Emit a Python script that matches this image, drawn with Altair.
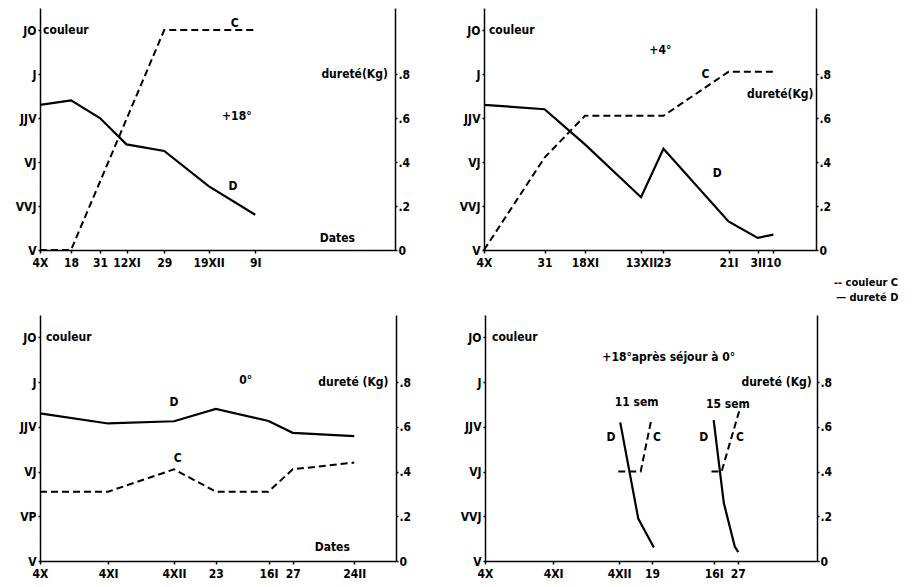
import altair as alt
import pandas as pd

FONT = "DejaVu Sans Condensed"

# colour scale labels (left axis), level 0..5
levels_a = ["V", "VVJ", "VJ", "JJV", "J", "JO"]
levels_b = ["V", "VP", "VJ", "JJV", "J", "JO"]

# ---------- Panel 1 : +18° ----------
p1_ticks = [0, 14, 27, 39, 56, 76, 97]
p1_tick_labels = ["4X", "18", "31", "12XI", "29", "19XII", "9I"]
p1_d_days = [0, 14, 27, 39, 56, 76, 97]
p1_d_vals = [0.66, 0.68, 0.60, 0.48, 0.45, 0.29, 0.16]
p1_c_days = [0, 14, 56, 97]
p1_c_levels = [0, 0, 5, 5]

# ---------- Panel 2 : +4° ----------
p2_ticks = [0, 27, 45, 70, 80, 109, 122, 129]
p2_tick_labels = ["4X", "31", "18XI", "13XII", "23", "21I", "3II", "10"]
p2_d_days = [0, 27, 45, 70, 80, 109, 122, 129]
p2_d_vals = [0.66, 0.64, 0.48, 0.24, 0.46, 0.13, 0.055, 0.07]
p2_c_days = [0, 27, 45, 80, 109, 129]
p2_c_levels = [0, 2.1, 3.05, 3.05, 4.05, 4.05]

# ---------- Panel 3 : 0° ----------
p3_ticks = [0, 31, 61, 80, 104, 115, 143]
p3_tick_labels = ["4X", "4XI", "4XII", "23", "16I", "27", "24II"]
p3_d_days = [0, 31, 61, 80, 104, 115, 143]
p3_d_vals = [0.66, 0.615, 0.625, 0.68, 0.626, 0.573, 0.558]
p3_c_days = [0, 31, 61, 80, 104, 115, 143]
p3_c_levels = [1.55, 1.55, 2.05, 1.55, 1.55, 2.05, 2.2]

# ---------- Panel 4 : +18° après séjour à 0° ----------
p4_ticks = [0, 31, 61, 76, 104, 115]
p4_tick_labels = ["4X", "4XI", "4XII", "19", "16I", "27"]
p4_d11_days = [61.5, 69.7, 76.8]
p4_d11_vals = [0.62, 0.19, 0.06]
p4_d15_days = [104, 108.6, 113.6, 115.2]
p4_d15_vals = [0.63, 0.26, 0.065, 0.04]
p4_c11_days = [60.6, 70.8, 75.8]
p4_c11_levels = [2, 2, 3.2]
p4_c15_days = [103, 107.6, 115.6]
p4_c15_levels = [2, 2, 3.35]


def line_df(days, vals, group="a"):
    return pd.DataFrame({"x": days, "y": vals, "g": group})


def level_df(days, lv, group="a"):
    return pd.DataFrame({"x": days, "y": [v / 5 for v in lv], "g": group})


def make_panel(width, height, xmax, ticks, tick_labels, colour_labels,
               d_df, c_df, texts):
    xlab = "[" + ",".join("'%s'" % t for t in tick_labels) + "]"
    xval = "[" + ",".join(str(t) for t in ticks) + "]"
    xaxis = alt.Axis(values=ticks, title=None,
                     labelExpr=f"{xlab}[indexof({xval}, datum.value)]",
                     labelFlush=False, labelOverlap=False, tickSize=3,
                     labelPadding=4)
    xscale = alt.Scale(domain=[0, xmax], nice=False, zero=False)
    yscale = alt.Scale(domain=[0, 1.1], nice=False, zero=False)
    clab = "[" + ",".join("'%s'" % t for t in colour_labels) + "]"
    left_axis = alt.Axis(values=[0, 0.2, 0.4, 0.6, 0.8, 1.0], title=None,
                         labelExpr=f"{clab}[round(datum.value*5)]",
                         tickSize=2, labelPadding=2)
    right_axis = alt.Axis(values=[0, 0.2, 0.4, 0.6, 0.8], title=None, orient="right",
                          labelExpr="datum.value == 0 ? '0' : '.' + round(datum.value*10)",
                          tickSize=2, labelPadding=1)

    c_layer = alt.Chart(c_df).mark_line(color="black", strokeWidth=2,
                                        strokeDash=[7, 4]).encode(
        x=alt.X("x:Q", scale=xscale, axis=xaxis),
        y=alt.Y("y:Q", scale=yscale, axis=left_axis),
        detail="g:N")
    d_layer = alt.Chart(d_df).mark_line(color="black", strokeWidth=2.2).encode(
        x=alt.X("x:Q", scale=xscale, axis=xaxis),
        y=alt.Y("y:Q", scale=yscale, axis=right_axis),
        detail="g:N")
    layers = [c_layer, d_layer]
    tdf = pd.DataFrame(texts, columns=["x", "y", "t", "align", "s"])
    for al in ["left", "center", "right"]:
        sub = tdf[tdf["align"] == al]
        if len(sub) == 0:
            continue
        layers.append(
            alt.Chart(sub).mark_text(font=FONT, fontWeight="bold",
                                     color="black", align=al,
                                     baseline="middle").encode(
                x=alt.X("x:Q", scale=xscale, axis=xaxis),
                y=alt.Y("y:Q", scale=yscale, axis=None),
                size=alt.Size("s:Q", scale=None, legend=None),
                text="t:N"))
    return alt.layer(*layers).resolve_scale(y="independent").properties(
        width=width, height=height)


p1 = make_panel(355, 242, 160, p1_ticks, p1_tick_labels, levels_a,
                line_df(p1_d_days, p1_d_vals), level_df(p1_c_days, p1_c_levels),
                [(1.4, 1.0, "couleur", "left", 12), (87.8, 1.03, "C", "center", 12),
                 (156.8, 0.80, "dureté(Kg)", "right", 12),
                 (88.7, 0.61, "+18°", "center", 12),
                 (87, 0.29, "D", "center", 12), (134, 0.055, "Dates", "center", 12)])

p2 = make_panel(332, 242, 148, p2_ticks, p2_tick_labels, levels_a,
                line_df(p2_d_days, p2_d_vals), level_df(p2_c_days, p2_c_levels),
                [(2.2, 1.0, "couleur", "left", 12), (78.6, 0.91, "+4°", "center", 12),
                 (98.7, 0.80, "C", "center", 12),
                 (146.9, 0.71, "dureté(Kg)", "right", 12),
                 (104, 0.35, "D", "center", 12),
                 (156, -0.15, "-- couleur C", "left", 11),
                 (157, -0.22, "— dureté D", "left", 11)])

p3 = make_panel(356, 246, 162, p3_ticks, p3_tick_labels, levels_b,
                line_df(p3_d_days, p3_d_vals), level_df(p3_c_days, p3_c_levels),
                [(2.7, 1.0, "couleur", "left", 12), (93.6, 0.81, "0°", "center", 12),
                 (158.6, 0.80, "dureté (Kg)", "right", 12),
                 (61, 0.71, "D", "center", 12),
                 (62.7, 0.46, "C", "center", 12), (133, 0.063, "Dates", "center", 12)])

p4_d = pd.concat([line_df(p4_d11_days, p4_d11_vals, "11"),
                  line_df(p4_d15_days, p4_d15_vals, "15")])
p4_c = pd.concat([level_df(p4_c11_days, p4_c11_levels, "11"),
                  level_df(p4_c15_days, p4_c15_levels, "15")])
p4 = make_panel(332, 246, 151, p4_ticks, p4_tick_labels, levels_a, p4_d, p4_c,
                [(3.2, 1.0, "couleur", "left", 12),
                 (83.6, 0.91, "+18°après séjour à 0°", "center", 12),
                 (148.6, 0.80, "dureté (Kg)", "right", 12),
                 (69, 0.71, "11 sem", "center", 12),
                 (110.5, 0.70, "15 sem", "center", 12),
                 (57.3, 0.555, "D", "center", 12), (78.2, 0.555, "C", "center", 12),
                 (99.5, 0.555, "D", "center", 12), (116, 0.555, "C", "center", 12)])

row1 = alt.hconcat(p1, p2, spacing=49)
row2 = alt.hconcat(p3, p4, spacing=49)
chart = alt.vconcat(row1, row2, spacing=11).properties(
    padding={"left": 7, "top": 0, "right": 0, "bottom": 0},
    background="white"
).configure_view(stroke=None).configure_axis(
    domainColor="black", domainWidth=1.5, tickColor="black", tickWidth=1.5,
    labelColor="black", labelFont=FONT, labelFontSize=12, labelFontWeight="bold",
    grid=False
)

chart.save("out.html", embed_options={"renderer": "svg", "actions": False})
